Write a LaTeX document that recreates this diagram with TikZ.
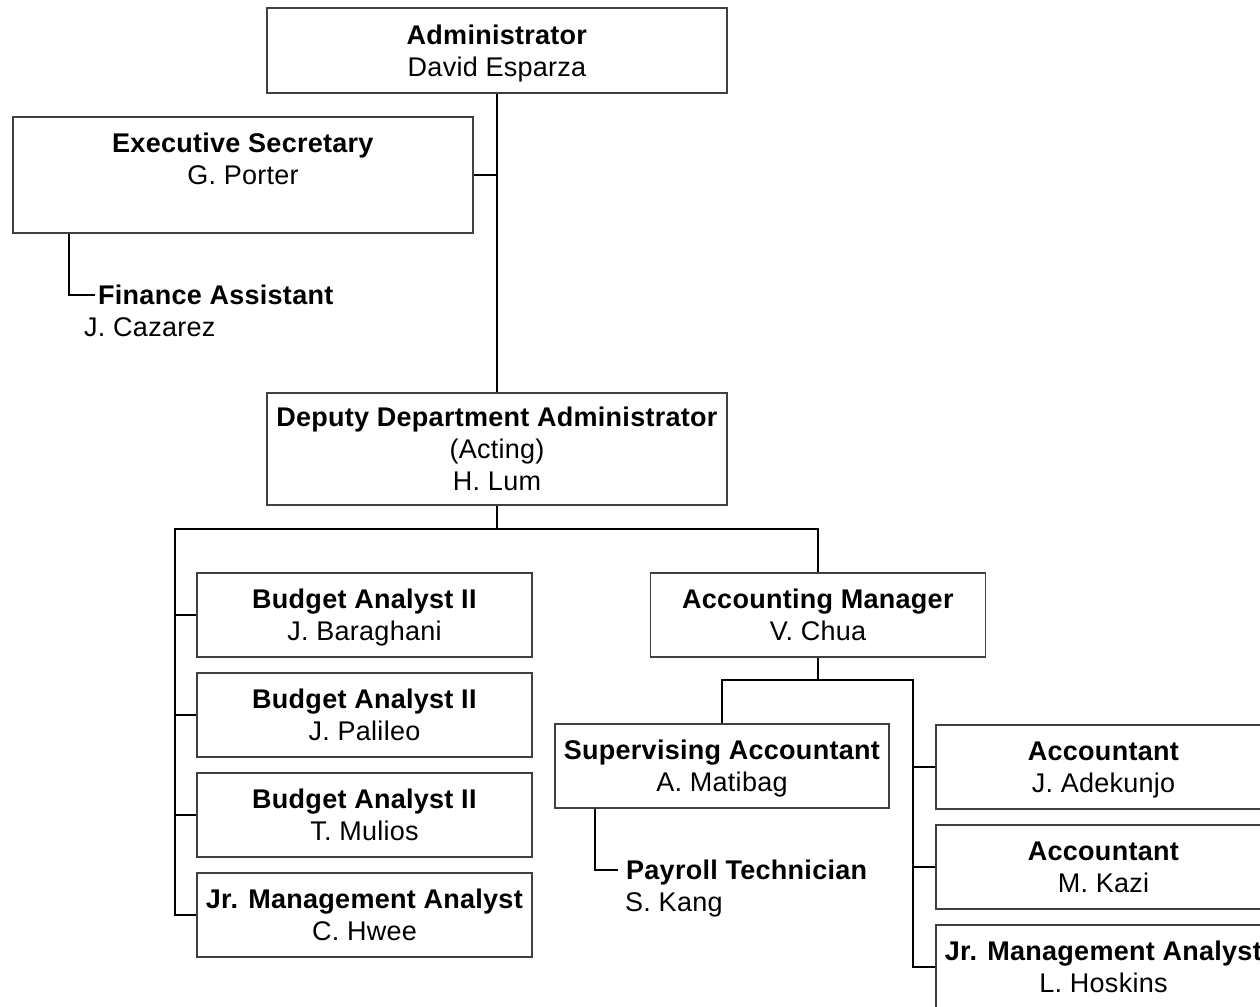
\documentclass[tikz,border=0pt]{standalone}
\usepackage{fontspec}
\setmainfont{Liberation Sans}[LetterSpace=1.0]
\definecolor{boxgray}{RGB}{64,64,64}
\newcommand\zs{\rule[-6.3pt]{0pt}{32pt}}
\begin{document}
\begin{tikzpicture}[x=1pt,y=-1pt,
  box/.style={draw=boxgray, line width=1.8pt, inner sep=0pt, align=center, font=\fontsize{27}{32}\selectfont},
  bwide/.style={box, minimum width=460pt},
  bnarrow/.style={box, minimum width=335pt, minimum height=84pt},
  lbl/.style={inner sep=0pt, font=\fontsize{27}{32}\selectfont, anchor=west},
  conn/.style={draw=black, line width=1.8pt}]
\useasboundingbox (0,0) rectangle (1260,1006);
\clip (0,0) rectangle (1260,1006);
\fill[white] (0,0) rectangle (1260,1006);

% boxes
\node[bwide, minimum height=85pt] (admin) at (497,50.5) {\textbf{Administrator}\zs\\David Esparza\zs};
\node[bwide, minimum height=116pt] (exec) at (243,175) {\textbf{Executive Secretary}\zs\\G. Porter\zs\\\zs};
\node[bwide, minimum height=112pt] (deputy) at (497,449) {\textbf{Deputy Department Administrator}\zs\\(Acting)\zs\\H. Lum\zs};
\node[bnarrow] (ba1) at (364.5,615) {\textbf{Budget Analyst II}\zs\\J. Baraghani\zs};
\node[bnarrow] (ba2) at (364.5,715) {\textbf{Budget Analyst II}\zs\\J. Palileo\zs};
\node[bnarrow] (ba3) at (364.5,815) {\textbf{Budget Analyst II}\zs\\T. Mulios\zs};
\node[bnarrow] (jma1) at (364.5,915) {\textbf{Jr. Management Analyst}\zs\\C. Hwee\zs};
\node[bnarrow] (accmgr) at (818,615) {\textbf{Accounting Manager}\zs\\V. Chua\zs};
\node[bnarrow, minimum width=334pt] (supacc) at (722,766) {\textbf{Supervising Accountant}\zs\\A. Matibag\zs};
\node[bnarrow] (acc1) at (1103.5,767) {\textbf{Accountant}\zs\\J. Adekunjo\zs};
\node[bnarrow] (acc2) at (1103.5,867) {\textbf{Accountant}\zs\\M. Kazi\zs};
\node[bnarrow] (jma2) at (1103.5,967) {\textbf{Jr. Management Analyst}\zs\\L. Hoskins\zs};

% free-standing labels
\node[lbl] (fa) at (98,295) {\textbf{Finance Assistant}\zs};
\node[lbl] (fa2) at (84,327) {J. Cazarez\zs};
\node[lbl] (pt) at (626,870) {\textbf{Payroll Technician}\zs};
\node[lbl] (pt2) at (625,902) {S. Kang\zs};

% bus coordinates
\coordinate (dbus) at (497,529);
\coordinate (lbus) at (175,529);
\coordinate (sbus) at (913,680);

% connectors
\draw[conn] (admin.south) -- (deputy.north);
\draw[conn] (exec.east) -- (exec.east -| admin.south);
\draw[conn] ([xshift=57pt]exec.south west) |- ([xshift=-3pt]fa.west);

\draw[conn] (deputy.south) -- (dbus);
\draw[conn] (jma1.west) -| (lbus) -- (accmgr.north |- lbus) -- (accmgr.north);
\draw[conn] (ba1.west) -- (ba1.west -| lbus);
\draw[conn] (ba2.west) -- (ba2.west -| lbus);
\draw[conn] (ba3.west) -- (ba3.west -| lbus);

\draw[conn] (accmgr.south) -- (accmgr.south |- sbus);
\draw[conn] (supacc.north) |- (sbus) |- (jma2.west);
\draw[conn] (acc1.west) -- (acc1.west -| sbus);
\draw[conn] (acc2.west) -- (acc2.west -| sbus);
\draw[conn] ([xshift=41pt]supacc.south west) |- ([xshift=-8pt]pt.west);
\end{tikzpicture}
\end{document}
